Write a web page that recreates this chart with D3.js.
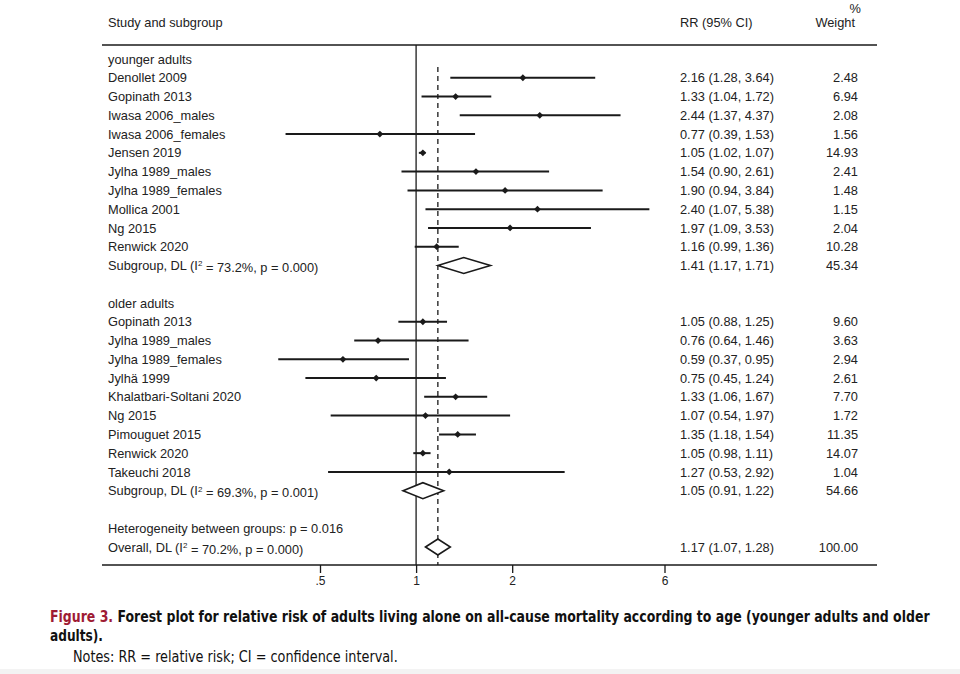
<!DOCTYPE html>
<html>
<head>
<meta charset="utf-8">
<script src="https://cdn.jsdelivr.net/npm/d3@7"></script>
<style>
  html, body { margin: 0; padding: 0; background: #fff; }
  svg { display: block; }
  text { font-family: "Liberation Sans", Arial, sans-serif; fill: #222; }
</style>
</head>
<body>
<svg id="chart" width="960" height="674"></svg>
<script>
// ---------------- DATA ----------------
const youngerStudies = ["Denollet 2009","Gopinath 2013","Iwasa 2006_males","Iwasa 2006_females","Jensen 2019","Jylha 1989_males","Jylha 1989_females","Mollica 2001","Ng 2015","Renwick 2020"];
const youngerRR  = [2.16, 1.33, 2.44, 0.77, 1.05, 1.54, 1.90, 2.40, 1.97, 1.16];
const youngerLo  = [1.28, 1.04, 1.37, 0.39, 1.02, 0.90, 0.94, 1.07, 1.09, 0.99];
const youngerHi  = [3.64, 1.72, 4.37, 1.53, 1.07, 2.61, 3.84, 5.38, 3.53, 1.36];
const youngerW   = ["2.48","6.94","2.08","1.56","14.93","2.41","1.48","1.15","2.04","10.28"];

const olderStudies = ["Gopinath 2013","Jylha 1989_males","Jylha 1989_females","Jylhä 1999","Khalatbari-Soltani 2020","Ng 2015","Pimouguet 2015","Renwick 2020","Takeuchi 2018"];
const olderRR  = [1.05, 0.76, 0.59, 0.75, 1.33, 1.07, 1.35, 1.05, 1.27];
const olderLo  = [0.88, 0.64, 0.37, 0.45, 1.06, 0.54, 1.18, 0.98, 0.53];
const olderHi  = [1.25, 1.46, 0.95, 1.24, 1.67, 1.97, 1.54, 1.11, 2.92];
const olderW   = ["9.60","3.63","2.94","2.61","7.70","1.72","11.35","14.07","1.04"];

const subgroupLabels = ["Subgroup, DL (I² = 73.2%, p = 0.000)", "Subgroup, DL (I² = 69.3%, p = 0.001)"];
const subgroupRR = [1.41, 1.05];
const subgroupLo = [1.17, 0.91];
const subgroupHi = [1.71, 1.22];
const subgroupW  = ["45.34", "54.66"];

const overallLabel = "Overall, DL (I² = 70.2%, p = 0.000)";
const overallRR = 1.17, overallLo = 1.07, overallHi = 1.28, overallW = "100.00";
const heterogeneityText = "Heterogeneity between groups: p = 0.016";

const xTicks = [0.5, 1, 2, 6];
const xTickLabels = [".5", "1", "2", "6"];

// ---------------- LAYOUT ----------------
const svg = d3.select("#chart");
const fmt = d3.format(".2f");
const x = d3.scaleLog().domain([0.5, 6]).range([320, 664.5]);
const nRows = 27;
const y = d3.scaleLinear().domain([0, nRows - 1]).range([59, 547]);
const leftX = 102, rightX = 877, topY = 45, axisY = 565;
const labelX = 108, rrX = 680, wX = 858;
const ink = "#1a1a1a";
const fs = "12.8px";

// Build rows
const rows = [];
rows.push({type: "group", label: "younger adults"});
youngerStudies.forEach((s, i) => rows.push({type: "study", label: s, rr: youngerRR[i], lo: youngerLo[i], hi: youngerHi[i], w: youngerW[i]}));
rows.push({type: "sub", label: subgroupLabels[0], rr: subgroupRR[0], lo: subgroupLo[0], hi: subgroupHi[0], w: subgroupW[0]});
rows.push({type: "blank"});
rows.push({type: "group", label: "older adults"});
olderStudies.forEach((s, i) => rows.push({type: "study", label: s, rr: olderRR[i], lo: olderLo[i], hi: olderHi[i], w: olderW[i]}));
rows.push({type: "sub", label: subgroupLabels[1], rr: subgroupRR[1], lo: subgroupLo[1], hi: subgroupHi[1], w: subgroupW[1]});
rows.push({type: "blank"});
rows.push({type: "group", label: heterogeneityText});
rows.push({type: "sub", label: overallLabel, rr: overallRR, lo: overallLo, hi: overallHi, w: overallW});
rows.forEach((r, i) => r.i = i);

// Header
svg.append("text").attr("x", labelX).attr("y", 27).style("font-size", fs).text("Study and subgroup");
svg.append("text").attr("x", rrX).attr("y", 27).style("font-size", fs).text("RR (95% CI)");
svg.append("text").attr("x", 855).attr("y", 27).attr("text-anchor", "end").style("font-size", fs).text("Weight");
svg.append("text").attr("x", 861).attr("y", 13).attr("text-anchor", "end").style("font-size", fs).text("%");

svg.append("line").attr("x1", leftX).attr("x2", rightX).attr("y1", topY).attr("y2", topY)
  .attr("stroke", ink).attr("stroke-width", 1.5);

// Null line
svg.append("line").attr("x1", x(1)).attr("x2", x(1)).attr("y1", topY).attr("y2", axisY)
  .attr("stroke", ink).attr("stroke-width", 1.3);

// Overall dashed line
svg.append("line").attr("x1", x(overallRR)).attr("x2", x(overallRR)).attr("y1", 67).attr("y2", axisY)
  .attr("stroke", ink).attr("stroke-width", 1.3).attr("stroke-dasharray", "5,4");

// Axis
svg.append("line").attr("x1", leftX).attr("x2", rightX).attr("y1", axisY).attr("y2", axisY)
  .attr("stroke", ink).attr("stroke-width", 1.5);
const axis = d3.axisBottom(x).tickValues(xTicks).tickFormat((d, i) => xTickLabels[i]).tickSize(8).tickPadding(3);
const ag = svg.append("g").attr("transform", `translate(0,${axisY})`).call(axis);
ag.select(".domain").remove();
ag.selectAll(".tick line").attr("stroke", ink).attr("stroke-width", 1.3);
ag.selectAll(".tick text").style("font-size", "12px").style("font-family", "'Liberation Sans', Arial, sans-serif").attr("fill", "#222");

// Row labels
const labelText = svg.append("g").selectAll("text")
  .data(rows.filter(r => r.label)).join("text")
  .attr("x", labelX).attr("y", d => y(d.i)).attr("dy", "0.36em").style("font-size", fs);
labelText.each(function(d) {
  const t = d3.select(this);
  if (d.label.includes("I²")) {
    const parts = d.label.split("I²");
    t.append("tspan").text(parts[0] + "I");
    t.append("tspan").attr("dy", "-0.45em").style("font-size", "8px").text("2");
    t.append("tspan").attr("dy", "0.45em").text(parts[1]);
  } else {
    t.text(d.label);
  }
});

// Estimates and weights
const est = rows.filter(r => r.rr !== undefined);
svg.append("g").selectAll("text").data(est).join("text")
  .attr("x", rrX).attr("y", d => y(d.i)).attr("dy", "0.36em").style("font-size", fs)
  .text(d => `${fmt(d.rr)} (${fmt(d.lo)}, ${fmt(d.hi)})`);
svg.append("g").selectAll("text").data(est).join("text")
  .attr("x", wX).attr("y", d => y(d.i)).attr("dy", "0.36em").attr("text-anchor", "end").style("font-size", fs)
  .text(d => d.w);

// CI lines
const studies = rows.filter(r => r.type === "study");
svg.append("g").selectAll("line").data(studies).join("line")
  .attr("x1", d => x(d.lo)).attr("x2", d => x(d.hi))
  .attr("y1", d => y(d.i)).attr("y2", d => y(d.i))
  .attr("stroke", ink).attr("stroke-width", 2);

// Point markers (small diamonds)
const m = 3.4;
svg.append("g").selectAll("path").data(studies).join("path")
  .attr("d", d => {
    const cx = x(d.rr), cy = y(d.i);
    return `M${cx - m},${cy}L${cx},${cy - m}L${cx + m},${cy}L${cx},${cy + m}Z`;
  })
  .attr("fill", ink);

// Pooled diamonds
const subs = rows.filter(r => r.type === "sub");
const h = 8;
svg.append("g").selectAll("path").data(subs).join("path")
  .attr("d", d => {
    const cy = y(d.i);
    return `M${x(d.lo)},${cy}L${x(d.rr)},${cy - h}L${x(d.hi)},${cy}L${x(d.rr)},${cy + h}Z`;
  })
  .attr("fill", "#fff").attr("stroke", ink).attr("stroke-width", 1.6);

// Caption (condensed by horizontal scaling so its box fits)
const capFont = "'Liberation Sans Narrow', 'DejaVu Sans Condensed', 'Open Sans', sans-serif";
function condensed(px, py, target, build) {
  const g = svg.append("g");
  const t = g.append("text").attr("x", 0).attr("y", 0)
    .style("font-family", capFont).style("font-size", "15px");
  build(t);
  const w = t.node().getComputedTextLength();
  const s = target / w;
  g.attr("transform", `translate(${px},${py}) scale(${s},1)`);
  return t;
}
condensed(50, 622, 880, t => {
  t.style("font-weight", "bold");
  t.append("tspan").style("fill", "#9e1b34").text("Figure 3. ");
  t.append("tspan").style("fill", "#111").text("Forest plot for relative risk of adults living alone on all-cause mortality according to age (younger adults and older");
});
condensed(50, 641, 53, t => {
  t.style("font-weight", "bold").style("fill", "#111").text("adults).");
});
condensed(73, 662, 325, t => {
  t.style("fill", "#111").text("Notes: RR = relative risk; CI = confidence interval.");
});

svg.append("rect").attr("x", 0).attr("y", 669).attr("width", 960).attr("height", 5).attr("fill", "#f3f3f3");
</script>
</body>
</html>
